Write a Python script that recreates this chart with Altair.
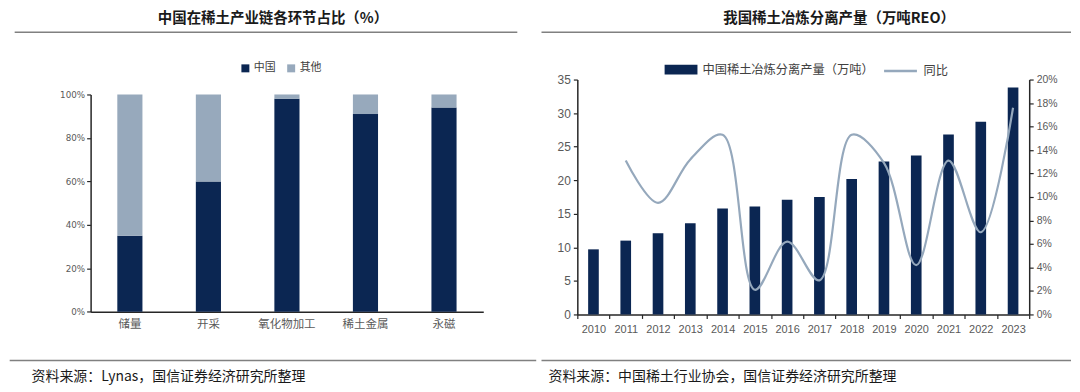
import altair as alt
import pandas as pd

# ---------------- data ----------------
stages = ["储量", "开采", "氧化物加工", "稀土金属", "永磁"]
china_share = [35, 60, 98, 91, 94]
other_share = [65, 40, 2, 9, 6]
left_series = ["中国", "其他"]

years = ["2010", "2011", "2012", "2013", "2014", "2015", "2016",
         "2017", "2018", "2019", "2020", "2021", "2022", "2023"]
output = [9.7, 11.0, 12.1, 13.6, 15.8, 16.1, 17.1, 17.5, 20.2, 22.8, 23.7, 26.8, 28.7, 33.8]
yoy = [None, 13.1, 9.5, 13.2, 15.3, 2.1, 6.2, 2.9, 15.3, 12.9, 4.2, 13.1, 7.0, 17.6]
bar_name = "中国稀土冶炼分离产量（万吨）"
line_name = "同比"

left_title = "中国在稀土产业链各环节占比（%）"
right_title = "我国稀土冶炼分离产量（万吨REO）"
left_source = "资料来源：Lynas，国信证券经济研究所整理"
right_source = "资料来源：中国稀土行业协会，国信证券经济研究所整理"

# ---------------- style ----------------
CJK = "Noto Sans CJK SC"
NUM = "'Liberation Sans', Arial, sans-serif"
NAVY = "#0b2652"
GREYBLUE = "#97a9bc"
LINEC = "#95a8bc"
LABEL = "#595959"
AXIS = "#262626"
RULEC = "#808080"

# both panels share the same plot-origin row (top = first plot row)
TITLE_Y = -60.7
TOPRULE_Y = -47.4
BOTRULE_Y = 282.3
SOURCE_Y = 299


def text_layer(txt, x, y, size, weight="normal", align="center", color="#1a1a1a"):
    return alt.Chart(pd.DataFrame({"t": [txt]})).mark_text(
        align=align, baseline="middle", fontSize=size, fontWeight=weight,
        font=CJK, color=color
    ).encode(x=alt.value(x), y=alt.value(y), text="t:N")


def hrule(x1, x2, y, color=RULEC, w=1.5):
    return alt.Chart(pd.DataFrame({"d": [0]})).mark_rule(
        color=color, strokeWidth=w
    ).encode(x=alt.value(x1), x2=alt.value(x2), y=alt.value(y))


# ---------------- left panel ----------------
LW, LH = 394.5, 233.3
left_df = pd.DataFrame({
    "stage": stages * 2,
    "series": [left_series[0]] * len(stages) + [left_series[1]] * len(stages),
    "value": china_share + other_share,
    "ord": [0] * len(stages) + [1] * len(stages),
})

left_bars = alt.Chart(left_df).mark_bar(width=alt.RelativeBandSize(0.32)).encode(
    x=alt.X("stage:N", sort=stages,
            scale=alt.Scale(paddingInner=0, paddingOuter=0),
            axis=alt.Axis(title=None, labelAngle=0, ticks=False,
                          domainColor=AXIS, domainWidth=1.5,
                          labelFont=CJK, labelFontSize=11.5, labelColor=LABEL,
                          labelPadding=7)),
    y=alt.Y("value:Q", stack="zero",
            scale=alt.Scale(domain=[0, 100], nice=False, range=[LH, 15]),
            axis=alt.Axis(title=None, values=[0, 20, 40, 60, 80, 100],
                          labelExpr="datum.value + '%'", grid=False,
                          domainColor=AXIS, domainWidth=1.5,
                          tickColor=AXIS, tickSize=4, tickWidth=1.2,
                          labelFont="DejaVu Sans", labelFontSize=8.8,
                          labelColor=LABEL, labelPadding=2)),
    color=alt.Color("series:N",
                    scale=alt.Scale(domain=left_series, range=[NAVY, GREYBLUE]),
                    legend=alt.Legend(title=None, orient="none", legendX=150,
                                      legendY=-17, direction="horizontal",
                                      symbolType="square", symbolSize=64,
                                      symbolStrokeWidth=0, labelOffset=3,
                                      columnPadding=10,
                                      labelFont=CJK, labelFontSize=11,
                                      labelColor="#404040")),
    order=alt.Order("ord:Q"),
)

left_panel = alt.layer(
    left_bars,
    text_layer(left_title, 183.2, TITLE_Y, 14.5, weight="bold"),
    hrule(-76.3, 428.7, TOPRULE_Y),
    hrule(-81.3, 447.7, BOTRULE_Y),
    text_layer(left_source, -59.3, SOURCE_Y, 14, align="left"),
).properties(width=LW, height=LH)

# ---------------- right panel ----------------
RW, RH = 454, 236
right_df = pd.DataFrame({
    "year": years,
    "output": output,
    "yoy": yoy,
    "s1": [bar_name] * len(years),
    "s2": [line_name] * len(years),
})

xenc = alt.X("year:N", sort=years,
             scale=alt.Scale(paddingInner=0, paddingOuter=0),
             axis=alt.Axis(title=None, labelAngle=0, tickBand="extent",
                           tickSize=4, tickColor=AXIS, tickWidth=1.2,
                           domainColor=AXIS, domainWidth=1.5,
                           labelFont=NUM, labelFontSize=11, labelColor=LABEL,
                           labelPadding=5))

# legends of a concat are placed relative to the first panel's plot origin
right_bars = alt.Chart(right_df).mark_bar(width=alt.RelativeBandSize(0.33)).encode(
    x=xenc,
    y=alt.Y("output:Q", scale=alt.Scale(domain=[0, 35], nice=False),
            axis=alt.Axis(title=None, values=[0, 5, 10, 15, 20, 25, 30, 35],
                          grid=False, domainColor=AXIS, domainWidth=1.5,
                          tickColor=AXIS, tickSize=4, tickWidth=1.2,
                          labelFont=NUM, labelFontSize=12, labelColor=LABEL,
                          labelPadding=3)),
    fill=alt.Fill("s1:N", scale=alt.Scale(domain=[bar_name], range=[NAVY]),
                  legend=alt.Legend(title=None, orient="none", legendX=576.7,
                                    legendY=-26.5,
                                    symbolType="M-1,-0.3H1V0.3H-1Z",
                                    symbolSize=1089, symbolStrokeWidth=0,
                                    labelOffset=5, labelFont=CJK, labelLimit=400,
                                    labelFontSize=12.3, labelColor="#404040")),
)

right_line = alt.Chart(right_df).transform_filter(
    "isValid(datum.yoy)"
).mark_line(interpolate="catmull-rom", strokeWidth=2.2).encode(
    x=alt.X("year:N", sort=years),
    y=alt.Y("yoy:Q", scale=alt.Scale(domain=[0, 20], nice=False),
            axis=alt.Axis(title=None, orient="right",
                          values=[0, 2, 4, 6, 8, 10, 12, 14, 16, 18, 20],
                          labelExpr="datum.value + '%'", grid=False,
                          domainColor=AXIS, domainWidth=1.5,
                          tickColor=AXIS, tickSize=4, tickWidth=1.2,
                          labelFont=NUM, labelFontSize=10.5, labelColor=LABEL,
                          labelPadding=3)),
    stroke=alt.Stroke("s2:N", scale=alt.Scale(domain=[line_name], range=[LINEC]),
                      legend=alt.Legend(title=None, orient="none", legendX=795.7,
                                        legendY=-26.5, symbolType="stroke",
                                        symbolSize=1089, symbolStrokeWidth=2.5,
                                        labelOffset=5, labelFont=CJK,
                                        labelFontSize=12.3, labelColor="#404040")),
)

right_panel = alt.layer(
    right_bars,
    right_line,
    text_layer(right_title, 263, TITLE_Y, 14.5, weight="bold"),
    hrule(-36, 496, TOPRULE_Y),
    hrule(-36, 496, BOTRULE_Y),
    text_layer(right_source, -29, SOURCE_Y, 14, align="left"),
).resolve_scale(y="independent").properties(width=RW, height=RH)

chart = alt.hconcat(left_panel, right_panel, spacing=3).properties(
    padding={"left": 0, "top": 2, "right": 0, "bottom": 0}, background="white"
).configure_view(stroke=None)

chart.save("out.html", embed_options={"renderer": "svg", "actions": False})
